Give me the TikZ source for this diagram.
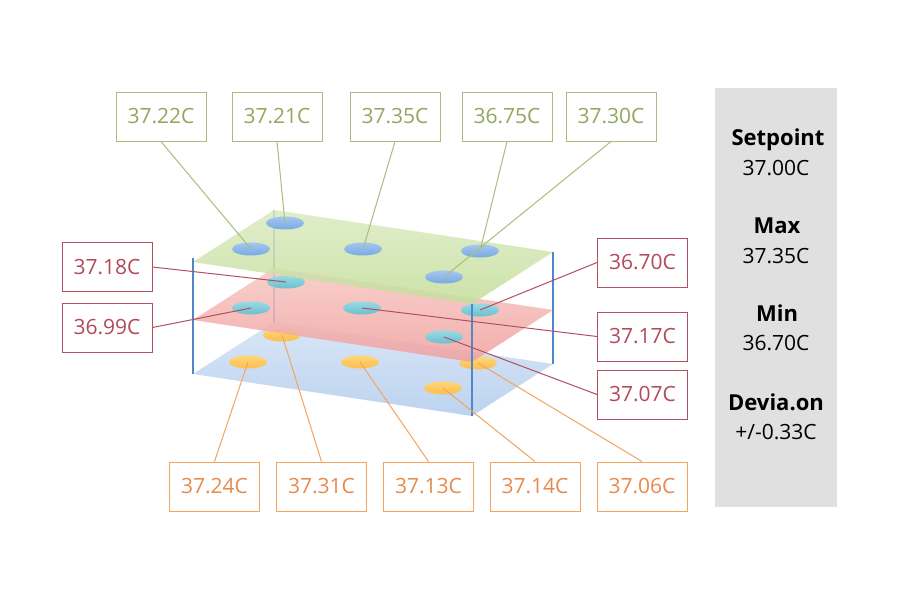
\documentclass[tikz,border=0pt]{standalone}
\usepackage{fontspec}
\setmainfont{Open Sans}
\usetikzlibrary{shapes.geometric}
\definecolor{gline}{HTML}{A9BE7C}
\definecolor{gtext}{HTML}{93A75E}
\definecolor{rline}{HTML}{B3505F}
\definecolor{rtext}{HTML}{B24A5B}
\definecolor{oline}{HTML}{F2A55E}
\definecolor{otext}{HTML}{E98A4C}
\definecolor{vline}{HTML}{4F87C8}
\definecolor{panelgrey}{HTML}{E0E0E0}
\definecolor{gplaneA}{HTML}{DCEBC0}
\definecolor{gplaneB}{HTML}{C4DE9C}
\definecolor{rplaneA}{HTML}{F8C8C3}
\definecolor{rplaneB}{HTML}{F0A09E}
\definecolor{bplaneA}{HTML}{D6E5F6}
\definecolor{bplaneB}{HTML}{B5CEEE}
\definecolor{spotbA}{HTML}{A3C8F0}
\definecolor{spotbB}{HTML}{7AA8E0}
\definecolor{spotcA}{HTML}{98DAE2}
\definecolor{spotcB}{HTML}{6CBFD0}
\definecolor{spotyA}{HTML}{FFD67A}
\definecolor{spotyB}{HTML}{FBBE4E}
\tikzset{
  lbl/.style={draw, line width=1pt, minimum width=90pt, minimum height=49pt,
    inner sep=0pt, fill=white, font=\fontsize{21}{25}\selectfont},
  glbl/.style={lbl, draw=gline, text=gtext},
  rlbl/.style={lbl, draw=rline, text=rtext},
  olbl/.style={lbl, draw=oline, text=otext},
  gconn/.style={draw=gline, line width=1pt},
  rconn/.style={draw=rline, line width=1pt},
  oconn/.style={draw=oline, line width=1pt},
  spot/.style={ellipse, minimum width=38pt, minimum height=13pt, inner sep=0pt},
  bspot/.style={spot, top color=spotbA, bottom color=spotbB},
  cspot/.style={spot, top color=spotcA, bottom color=spotcB},
  yspot/.style={spot, top color=spotyA, bottom color=spotyB},
  edge3d/.style={draw=vline, line width=1.2pt},
  headtxt/.style={font=\fontsize{22}{26}\selectfont\bfseries, inner sep=0pt},
  valtxt/.style={font=\fontsize{21}{25}\selectfont, inner sep=0pt},
}
\begin{document}
\begin{tikzpicture}[x=1pt,y=-1pt]
\useasboundingbox[fill=white] (0,0) rectangle (900,600);

% plane corners
\coordinate (gA) at (193,262); \coordinate (gB) at (274,210);
\coordinate (gC) at (553,252); \coordinate (gD) at (472,304);
\coordinate (rA) at (193,320); \coordinate (rB) at (274,268);
\coordinate (rC) at (553,310); \coordinate (rD) at (472,362);
\coordinate (bA) at (193,374); \coordinate (bB) at (274,322);
\coordinate (bC) at (553,364); \coordinate (bD) at (472,416);
\coordinate (gAt) at (193,258);

% back vertical edge (behind the planes)
\draw[edge3d] (gB) -- (bB);

% bottom plane
\shade[top color=bplaneA, bottom color=bplaneB, opacity=0.9] (bA) -- (bB) -- (bC) -- (bD) -- cycle;
\node[yspot] (y2) at (282,335) {};
\node[yspot] (y1) at (248,362) {};
\node[yspot] (y3) at (360,362) {};
\node[yspot] (y4) at (478,363) {};
\node[yspot] (y5) at (443,388) {};

% middle plane
\shade[top color=rplaneA, bottom color=rplaneB, opacity=0.85] (rA) -- (rB) -- (rC) -- (rD) -- cycle;
\node[cspot] (c2) at (286,282) {};
\node[cspot] (c1) at (251,308) {};
\node[cspot] (c3) at (362,308) {};
\node[cspot] (c4) at (480,310) {};
\node[cspot] (c5) at (444,337) {};

% top plane
\shade[top color=gplaneA, bottom color=gplaneB, opacity=0.85] (gA) -- (gB) -- (gC) -- (gD) -- cycle;
\node[bspot] (b2) at (285,223) {};
\node[bspot] (b1) at (251,249) {};
\node[bspot] (b3) at (363,249) {};
\node[bspot] (b4) at (480,251) {};
\node[bspot] (b5) at (444,277) {};

% visible vertical edges
\draw[edge3d] (gAt) -- (bA);
\draw[edge3d] (gC) -- (bC);
\draw[edge3d] (gD) -- (bD);

% top labels
\node[glbl] (t1) at (161,116.5) {37.22C};
\node[glbl] (t2) at (277,116.5) {37.21C};
\node[glbl] (t3) at (395,116.5) {37.35C};
\node[glbl] (t4) at (507,116.5) {36.75C};
\node[glbl] (t5) at (611,116.5) {37.30C};

% middle labels
\node[rlbl] (m1) at (107,267) {37.18C};
\node[rlbl] (m2) at (107,327.5) {36.99C};
\node[rlbl] (m3) at (642.5,262.5) {36.70C};
\node[rlbl] (m4) at (642.5,336.5) {37.17C};
\node[rlbl] (m5) at (642.5,394.5) {37.07C};

% bottom labels
\node[olbl] (u1) at (214.5,486.5) {37.24C};
\node[olbl] (u2) at (321.5,486.5) {37.31C};
\node[olbl] (u3) at (428.5,486.5) {37.13C};
\node[olbl] (u4) at (535,486.5) {37.14C};
\node[olbl] (u5) at (642,486.5) {37.06C};

% connectors
\draw[gconn] (t1.south) -- (b1.center);
\draw[gconn] (t2.south) -- (b2.center);
\draw[gconn] (t3.south) -- (b3.center);
\draw[gconn] (t4.south) -- (b4.center);
\draw[gconn] (t5.south) -- (b5.center);

\draw[rconn] (m1.east) -- (c2.center);
\draw[rconn] (m2.east) -- (c1.center);
\draw[rconn] (m3.west) -- (c4.center);
\draw[rconn] (m4.west) -- (c3.center);
\draw[rconn] (m5.west) -- (c5.center);

\draw[oconn] (u1.north) -- (y1.center);
\draw[oconn] (u2.north) -- (y2.center);
\draw[oconn] (u3.north) -- (y3.center);
\draw[oconn] (u4.north) -- (y5.center);
\draw[oconn] (u5.north) -- (y4.center);

% right panel
\node[fill=panelgrey, minimum width=122pt, minimum height=419pt, inner sep=0pt] (panel) at (776,297.5) {};
\node[headtxt] (h1) at (778,140) {Setpoint};
\node[valtxt] (v1) at (776,168) {37.00C};
\node[headtxt] (h2) at (777,226) {Max};
\node[valtxt] (v2) at (776,256) {37.35C};
\node[headtxt] (h3) at (777,313) {Min};
\node[valtxt] (v3) at (776,343) {36.70C};
\node[headtxt] (h4) at (776,402) {Devia.on};
\node[valtxt] (v4) at (776,432) {+/-0.33C};
\end{tikzpicture}
\end{document}
